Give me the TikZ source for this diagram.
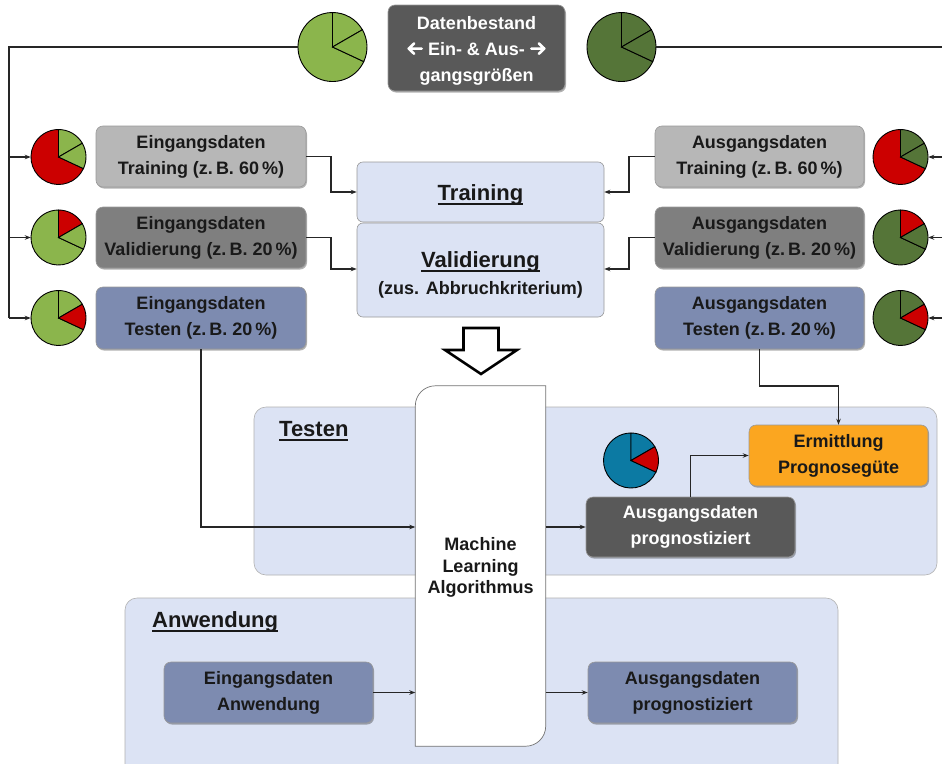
\documentclass[tikz,border=0pt]{standalone}
\usepackage{fontspec}
\setmainfont{Liberation Sans}
\usetikzlibrary{arrows.meta,shadows}

\definecolor{dgray}{RGB}{89,89,89}
\definecolor{lgray}{RGB}{183,183,183}
\definecolor{mgray}{RGB}{127,127,127}
\definecolor{bgray}{RGB}{125,139,176}
\definecolor{paleblue}{RGB}{220,227,244}
\definecolor{orng}{RGB}{251,166,32}
\definecolor{lgreen}{RGB}{139,181,76}
\definecolor{dgreen}{RGB}{85,117,56}
\definecolor{pred}{RGB}{204,0,0}
\definecolor{pblue}{RGB}{12,122,163}

% underline with a thicker rule
\newcommand\ulx[1]{\setbox0\hbox{#1}\rlap{\rule[-4.8pt]{\wd0}{1.6pt}}\box0}

% bold chevron arrows used inside text
\newcommand\larrow{\tikz[baseline=-6.5pt]\draw[white, line width=2.6pt, line cap=round, line join=round]
  (13pt,0pt) -- (0pt,0pt) (5.5pt,5.2pt) -- (0pt,0pt) -- (5.5pt,-5.2pt);}
\newcommand\rarrow{\tikz[baseline=-6.5pt]\draw[white, line width=2.6pt, line cap=round, line join=round]
  (0pt,0pt) -- (13pt,0pt) (7.5pt,5.2pt) -- (13pt,0pt) -- (7.5pt,-5.2pt);}

% pie chart: name, x, y, radius, colour 90..30, colour 30..-25, colour of the rest
\newcommand\piechart[7]{%
  \node[circle, minimum size={2*#4pt}, inner sep=0pt] (#1) at (#2,#3) {};
  \filldraw[pieline, fill=#7] (#1.center) -- ++(-25:#4pt) arc[start angle=-25, end angle=-270, radius=#4pt] -- cycle;
  \filldraw[pieline, fill=#5] (#1.center) -- ++(90:#4pt) arc[start angle=90, end angle=30, radius=#4pt] -- cycle;
  \filldraw[pieline, fill=#6] (#1.center) -- ++(30:#4pt) arc[start angle=30, end angle=-25, radius=#4pt] -- cycle;
}

\begin{document}
\begin{tikzpicture}[x=1pt,y=1pt,
  box/.style={draw=black!40, line width=0.6pt, rounded corners=7pt, align=center,
    inner sep=0pt, font=\bfseries\fontsize{18}{26}\selectfont, text=black!90,
    minimum width=209pt, minimum height=61pt,
    drop shadow={shadow xshift=1pt, shadow yshift=-1.5pt, opacity=0.3, fill=black}},
  boxtext/.style={align=center, inner sep=0pt, font=\bfseries\fontsize{18}{26}\selectfont},
  region/.style={draw=black!30, line width=0.6pt, fill=paleblue, rounded corners=12pt, inner sep=0pt},
  phase/.style={draw=black!40, line width=0.6pt, fill=paleblue, rounded corners=6pt, inner sep=0pt,
    minimum width=247pt},
  ttl/.style={font=\bfseries\fontsize{22}{26}\selectfont, text=black!90, inner sep=0pt},
  sub/.style={font=\bfseries\fontsize{18}{22}\selectfont, text=black!90, inner sep=0pt},
  conn/.style={line width=1.1pt, draw=black!85},
  arr/.style={conn, -{Stealth[length=6pt,width=4.5pt]}},
  pieline/.style={draw=black, line width=0.9pt}]

\useasboundingbox[fill=white] (0,0) rectangle (942,-763);

% ---------- phase regions ----------
\node[region, minimum width=683pt, minimum height=168pt] (testreg) at (595.5,-491) {};
\node[region, minimum width=713pt, minimum height=200pt] (anwreg) at (481.5,-698) {};
\node[ttl, anchor=base west] (testttl) at (279,-436) {\ulx{Testen}};
\node[ttl, anchor=base west] (anwttl) at (152,-627) {\ulx{Anwendung}};

% ---------- data set ----------
\node[box, fill=dgray, minimum width=177pt, minimum height=86pt] (data) at (476.5,-48) {};
\node[boxtext, text=white] (datatxt) at ([yshift=-2.5pt]data.center)
  {Datenbestand\\\larrow\ Ein- \& Aus-\ \rarrow\\gangsgrößen};

\piechart{pinAll}{332.5}{-47}{34.5}{lgreen}{lgreen}{lgreen}
\piechart{poutAll}{621.5}{-47}{34.5}{dgreen}{dgreen}{dgreen}

% ---------- split pies ----------
\piechart{pin1}{58.5}{-157}{27.5}{lgreen}{lgreen}{pred}
\piechart{pin2}{58.5}{-237.5}{27.5}{pred}{lgreen}{lgreen}
\piechart{pin3}{58.5}{-318}{27.5}{lgreen}{pred}{lgreen}
\piechart{pout1}{900.5}{-157}{27.5}{dgreen}{dgreen}{pred}
\piechart{pout2}{900.5}{-237.5}{27.5}{pred}{dgreen}{dgreen}
\piechart{pout3}{900.5}{-318}{27.5}{dgreen}{pred}{dgreen}

% ---------- input / output parts ----------
\node[box, fill=lgray, minimum width=210pt] (inTrain) at (201,-156.5) {Eingangsdaten\\Training (z.\,B. 60\,\%)};
\node[box, fill=mgray, minimum width=210pt] (inVal) at (201,-237.5) {Eingangsdaten\\Validierung (z.\,B. 20\,\%)};
\node[box, fill=bgray, minimum width=210pt, minimum height=62pt] (inTest) at (201,-318) {Eingangsdaten\\Testen (z.\,B. 20\,\%)};
\node[box, fill=lgray] (outTrain) at (759.5,-156.5) {Ausgangsdaten\\Training (z.\,B. 60\,\%)};
\node[box, fill=mgray] (outVal) at (759.5,-237.5) {Ausgangsdaten\\Validierung (z.\,B. 20\,\%)};
\node[box, fill=bgray, minimum height=62pt] (outTest) at (759.5,-318) {Ausgangsdaten\\Testen (z.\,B. 20\,\%)};

% ---------- training and validation ----------
\node[phase, minimum height=60pt] (train) at (480.5,-192) {};
\node[phase, minimum height=94pt] (valid) at (480.5,-270) {};
\node[ttl, anchor=base] (trainttl) at (480.5,-200) {\ulx{Training}};
\node[ttl, anchor=base] (validttl) at (480.5,-267) {\ulx{Validierung}};
\node[sub, anchor=base] (validsub) at (480.5,-294) {(zus. Abbruchkriterium)};

% hollow arrow towards the algorithm
\draw[line width=2.6pt, fill=white, line join=miter, miter limit=4]
  (463.5,-328) -- (498.5,-328) -- (498.5,-350) -- (517,-350) -- (481,-374)
  -- (445,-350) -- (463.5,-350) -- cycle;

% ---------- machine learning algorithm ----------
\node[minimum width=130pt, minimum height=360pt, inner sep=0pt] (ml) at (480.5,-566) {};
\draw[fill=white, draw=black!55, line width=0.7pt]
  (ml.south west) -- ([yshift=-20pt]ml.north west)
  arc[start angle=180, end angle=90, radius=20pt] -- (ml.north east)
  -- ([yshift=20pt]ml.south east)
  arc[start angle=0, end angle=-90, radius=20pt] -- cycle;
\node[sub, align=center, font=\bfseries\fontsize{18}{21.5}\selectfont] (mltxt) at ([yshift=-1.5pt]ml.center)
  {Machine\\Learning\\Algorithmus};

% ---------- testing ----------
\node[box, fill=dgray, text=white, minimum height=60pt] (pred) at (690.5,-527) {Ausgangsdaten\\prognostiziert};
\node[box, fill=orng, minimum width=179pt] (erm) at (838.5,-455.5) {Ermittlung\\Prognosegüte};
\piechart{ppred}{631}{-460.5}{27.5}{pblue}{pred}{pblue}

% ---------- application ----------
\node[box, fill=bgray] (inAnw) at (268.5,-692.5) {Eingangsdaten\\Anwendung};
\node[box, fill=bgray] (outAnw) at (692.5,-692.5) {Ausgangsdaten\\prognostiziert};

% ---------- connectors ----------
\coordinate (lbus) at (9,-47);
\coordinate (rbus) at (946,-47);
\coordinate (lmid) at (331,0);
\coordinate (rmid) at (629,0);
\coordinate (ebend) at (838.5,-386);

\draw[conn] (pinAll.west) -- (lbus) -- (lbus |- pin3);
\draw[arr] (lbus |- pin1) -- (pin1.west);
\draw[arr] (lbus |- pin2) -- (pin2.west);
\draw[arr] (lbus |- pin3) -- (pin3.west);

\draw[conn] (poutAll.east) -- (rbus) -- (rbus |- pout3);
\draw[arr] (rbus |- pout1) -- (pout1.east);
\draw[arr] (rbus |- pout2) -- (pout2.east);
\draw[arr] (rbus |- pout3) -- (pout3.east);

\draw[arr] (inTrain.east) -- (inTrain.east -| lmid) |- (train.west);
\draw[arr] (inVal.east) -- (inVal.east -| lmid) |- ([yshift=1pt]valid.west);
\draw[arr] (outTrain.west) -- (outTrain.west -| rmid) |- (train.east);
\draw[arr] (outVal.west) -- (outVal.west -| rmid) |- ([yshift=1pt]valid.east);

\draw[arr] (inTest.south) |- (ml.west |- pred.west);
\draw[arr] (ml.east |- pred.west) -- (pred.west);
\draw[arr] (pred.north) |- (erm.west);
\draw[arr] (outTest.south) |- (ebend) -- (erm.north);

\draw[arr] (inAnw.east) -- (ml.west |- inAnw.east);
\draw[arr] (ml.east |- outAnw.west) -- (outAnw.west);

\end{tikzpicture}
\end{document}
